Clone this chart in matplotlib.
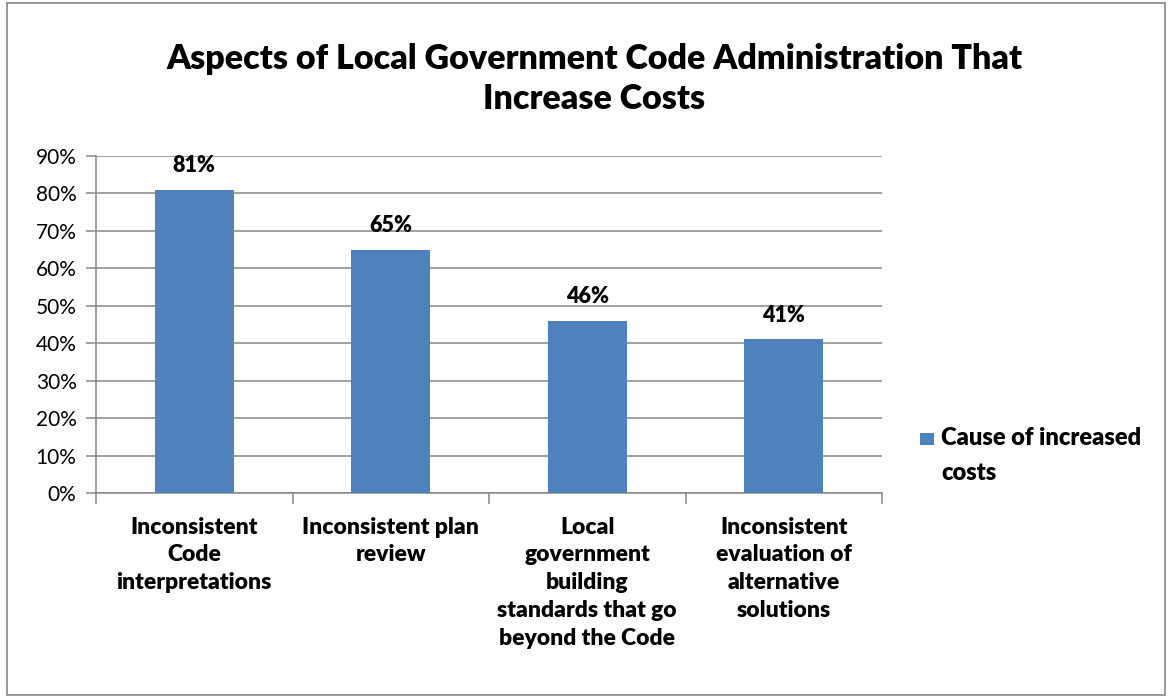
import matplotlib
matplotlib.use("Agg")
import matplotlib.pyplot as plt
from matplotlib.patches import Rectangle
from matplotlib.ticker import FixedLocator, NullFormatter

categories = ["Inconsistent\nCode\ninterpretations",
              "Inconsistent plan\nreview",
              "Local\ngovernment\nbuilding\nstandards that go\nbeyond the Code",
              "Inconsistent\nevaluation of\nalternative\nsolutions"]
values = [81, 65, 46, 41]
yticks = [0, 10, 20, 30, 40, 50, 60, 70, 80, 90]
series_name = "Cause of increased\ncosts"
title = "Aspects of Local Government Code Administration That\nIncrease Costs"
bar_color = '#4F81BD'

plt.rcParams['font.family'] = ['Lato', 'DejaVu Sans']
W, H = 1168, 698
fig = plt.figure(figsize=(W/100, H/100), dpi=100)
fig.patch.set_facecolor('white')
fig.add_artist(Rectangle((7/W, 3/H), (W-10)/W, (H-6)/H, transform=fig.transFigure,
                         fill=False, edgecolor='#868686', linewidth=1.2))

ax = fig.add_axes([96/W, 1-493/H, (882-96)/W, (493-156)/H])
x = list(range(len(categories)))
bars = ax.bar(x, values, width=0.4, color=bar_color, zorder=3, label=series_name)
ax.set_xlim(-0.5, 3.5)
ax.set_ylim(0, 90)
ax.set_yticks(yticks)
ax.set_yticklabels([f"{v}%" for v in yticks], fontsize=15)
ax.yaxis.grid(True, color='#868686', linewidth=1.1, zorder=0)
for s in ['top', 'right']:
    ax.spines[s].set_visible(False)
for s in ['left', 'bottom']:
    ax.spines[s].set_color('#868686')
    ax.spines[s].set_linewidth(1.1)
ax.tick_params(axis='y', length=7, color='#868686', width=1.1, pad=7)
ax.xaxis.set_major_locator(FixedLocator([-0.5, 0.5, 1.5, 2.5, 3.5]))
ax.xaxis.set_major_formatter(NullFormatter())
ax.tick_params(axis='x', which='major', length=8, color='#868686', width=1.1)
ax.xaxis.set_minor_locator(FixedLocator(x))
ax.set_xticklabels(categories, minor=True, fontsize=16.5, fontweight='heavy', linespacing=1.4)
ax.tick_params(axis='x', which='minor', length=0, pad=17)
for label in ax.get_xticklabels(minor=True):
    label.set_verticalalignment('top')

for xi, v in zip(x, values):
    ax.text(xi, v + 3.6, f"{v}%", ha='center', va='bottom', fontsize=15.5, fontweight='heavy')

fig.text(594/W, 1-79/H, title, ha='center', va='center', fontsize=24.5,
         fontweight='heavy', linespacing=1.3)

# legend (swatch aligned with first text line, as in the reference)
fig.add_artist(Rectangle((920/W, 1-445/H), 14/W, 12/H, transform=fig.transFigure,
                         facecolor=bar_color, edgecolor='none'))
fig.text(941/W, 1-427/H, series_name, ha='left', va='top', fontsize=17,
         fontweight='heavy', linespacing=1.75)
fig.savefig("out.png", dpi=100)
